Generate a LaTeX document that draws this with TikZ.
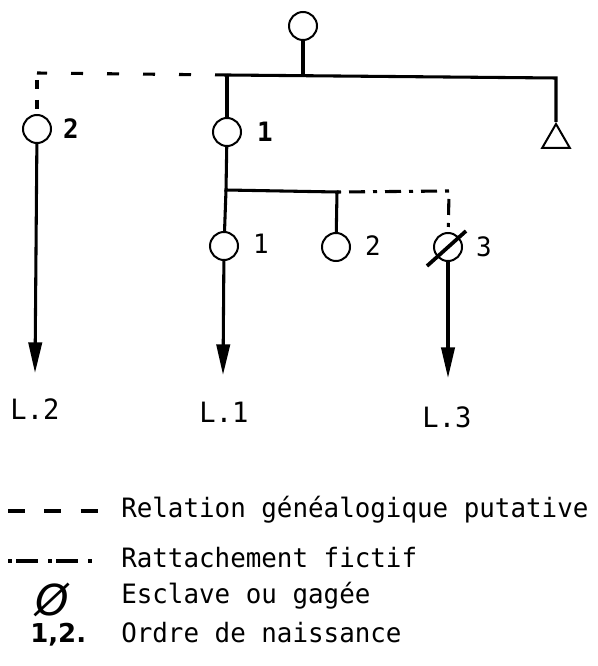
\documentclass[tikz,border=0pt]{standalone}
\usepackage{fontspec}
\setmainfont{DejaVu Sans}
\newfontfamily\monof[FakeStretch=0.97]{DejaVu Sans Mono}
\newfontfamily\symf{DejaVu Sans}
\usetikzlibrary{arrows.meta,shapes.geometric}
\begin{document}
\begin{tikzpicture}[x=0.75pt,y=-0.75pt,
  person/.style={circle,draw,line width=1.5pt,minimum size=21pt,inner sep=0pt},
  male/.style={regular polygon,regular polygon sides=3,draw,line width=1.5pt,minimum size=24pt,inner sep=0pt},
  link/.style={line width=2.3pt},
  putative/.style={line width=2.3pt,dash pattern=on 9pt off 18pt},
  putativev/.style={line width=2.3pt,dash pattern=on 7pt off 8pt},
  fictif/.style={line width=2.3pt,dash pattern=on 3pt off 6pt on 12pt off 6pt},
  descent/.style={line width=2.3pt,-{Triangle[length=23pt,width=10pt]}},
  numlbl/.style={font=\monof\fontsize{20pt}{22pt}\selectfont,inner sep=0pt},
  numlblb/.style={font=\monof\bfseries\fontsize{20pt}{22pt}\selectfont,inner sep=0pt},
  linelbl/.style={font=\monof\fontsize{21pt}{24pt}\selectfont,inner sep=0pt},
  legtext/.style={font=\monof\fontsize{20pt}{22pt}\selectfont,inner sep=0pt,anchor=base west},
]
\useasboundingbox (0,0) rectangle (598,666);

% persons
\node[person] (F) at (303,26) {};
\node[person] (c2) at (37,129) {};
\node[person] (c1) at (227,132) {};
\node[person] (d1) at (224,246) {};
\node[person] (d2) at (336,247) {};
\node[person] (d3) at (448,247) {};
\node[male] (M) at (556,140) {};

% junctions
\coordinate (jF) at (303,76);
\coordinate (jL) at (227,75);
\coordinate (jR) at (556,78);
\coordinate (jD) at (37,73);
\coordinate (jD2) at (37,80);
\coordinate (jB) at (226,190);
\coordinate (jC) at (337,192);
\coordinate (jE) at (449,191);
\coordinate (a2) at (35,373);
\coordinate (a1) at (223,375);
\coordinate (a3) at (448,378);

% connectors
\draw[link] (F) -- (jF);
\draw[link] (jL) -- (jR) -- (M);
\draw[putative] (jL) -- (jD);
\draw[putativev] (jD2) -- (c2);
\draw[link] (jL) -- (c1);
\draw[link] (c1) -- (jB) -- (jC) -- (d2);
\draw[link] (jB) -- (d1);
\draw[fictif] (jC) -- (jE) -- (d3);
\draw[descent] (c2) -- (a2);
\draw[descent] (d1) -- (a1);
\draw[descent] (d3) -- (a3);
% slave mark
\draw[line width=2.8pt] (427,266) -- (466,231);

% birth order labels
\node[numlblb] (n2) at (71,129) {2};
\node[numlblb] (n1) at (265,132) {1};
\node[numlbl] (m1) at (261,244) {1};
\node[numlbl] (m2) at (373,246) {2};
\node[numlbl] (m3) at (484,247) {3};

% lineage labels
\node[linelbl] (L2) at (35,409) {L.2};
\node[linelbl] (L1) at (224,412) {L.1};
\node[linelbl] (L3) at (447,417) {L.3};

% legend
\coordinate (la) at (8,511);
\coordinate (lb) at (100,511);
\draw[line width=2.8pt,dash pattern=on 12.75pt off 14.5pt] (la) -- (lb);
\node[legtext] (t1) at (121,517) {Relation généalogique putative};
\coordinate (lc) at (8,561);
\coordinate (ld) at (92,561);
\draw[line width=2.8pt,dash pattern=on 3pt off 3pt on 16.5pt off 7.5pt] (lc) -- (ld);
\node[legtext] (t2) at (121,567) {Rattachement fictif};
\node[font=\symf\itshape\fontsize{32pt}{34pt}\selectfont,inner sep=0pt] (sym) at (52,600) {Ø};
\node[legtext] (t3) at (121,603) {Esclave ou gagée};
\node[font=\symf\bfseries\fontsize{19.5pt}{22pt}\selectfont,inner sep=0pt,anchor=base west] (t4a) at (30,642) {1,2.};
\node[legtext] (t4) at (121,642) {Ordre de naissance};
\end{tikzpicture}
\end{document}
